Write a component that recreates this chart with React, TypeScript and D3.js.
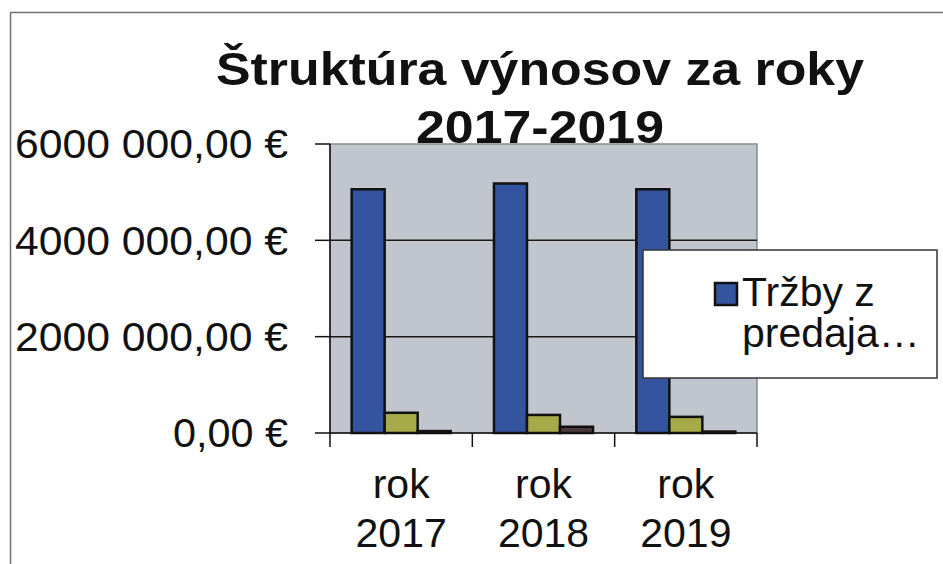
import React, { useEffect } from "react";
import * as d3 from "d3";

const categories = ["rok 2017", "rok 2018", "rok 2019"];
const seriesNames = ["Tržby z predaja…", "Ostatné výnosy", "Finančné výnosy"];
const salesValues = [5060000, 5180000, 5060000];
const otherValues = [420000, 375000, 335000];
const financeValues = [40000, 130000, 30000];
const yTicks = [0, 2000000, 4000000, 6000000];
const yTickLabels = ["0,00 €", "2000 000,00 €", "4000 000,00 €", "6000 000,00 €"];
const titleLines = ["Štruktúra výnosov za roky", "2017-2019"];
const legendLines = ["Tržby z", "predaja…"];
const seriesColors = ["#34549f", "#a7aa48", "#4a3a3a"];

const W = 943;
const H = 564;
const plot = { left: 330, right: 757, top: 144, bottom: 433 };
const font = "'Liberation Sans', Arial, sans-serif";

export default function App() {
  useEffect(() => {
    document.body.style.margin = "0";
  }, []);

  const y = d3.scaleLinear().domain([0, 6000000]).range([plot.bottom, plot.top]);
  const x0 = d3.scaleBand<string>().domain(categories).range([plot.left, plot.right]).padding(0);
  const x1 = d3
    .scaleBand<string>()
    .domain(seriesNames)
    .range([0, x0.bandwidth()])
    .paddingInner(0)
    .paddingOuter(0.656);

  const seriesData = [salesValues, otherValues, financeValues];
  const catEdges = [...categories.map((c) => x0(c) as number), plot.right];

  return (
    <svg width={W} height={H} style={{ display: "block", background: "#fff" }} fontFamily={font}>
      {/* outer chart border */}
      <path d={`M10.5,${H} L10.5,12.5 L${W},12.5`} fill="none" stroke="#707070" strokeWidth={1.5} />

      {/* plot area */}
      <rect
        x={plot.left}
        y={plot.top}
        width={plot.right - plot.left}
        height={plot.bottom - plot.top}
        fill="#c1c5cd"
        stroke="#8a8a8a"
        strokeWidth={1.5}
      />
      {yTicks
        .filter((t) => t > 0 && t < 6000000)
        .map((t) => (
          <line key={t} x1={plot.left} x2={plot.right} y1={y(t)} y2={y(t)} stroke="#1a1a1a" strokeWidth={1.5} />
        ))}

      {/* bars */}
      {categories.map((c, ci) => (
        <g key={c} transform={`translate(${x0(c)},0)`}>
          {seriesNames.map((s, si) => {
            const v = seriesData[si][ci];
            return (
              <rect
                key={s}
                x={x1(s)}
                y={y(v)}
                width={x1.bandwidth()}
                height={plot.bottom - y(v)}
                fill={seriesColors[si]}
                stroke="#111"
                strokeWidth={2.5}
              />
            );
          })}
        </g>
      ))}

      {/* axes */}
      <line x1={plot.left} x2={plot.left} y1={plot.top} y2={plot.bottom} stroke="#111" strokeWidth={1.5} />
      <line x1={plot.left - 1} x2={plot.right} y1={plot.bottom} y2={plot.bottom} stroke="#111" strokeWidth={1.5} />
      {yTicks.map((t, i) => (
        <g key={t}>
          <line x1={plot.left - 15} x2={plot.left} y1={y(t)} y2={y(t)} stroke="#111" strokeWidth={1.5} />
          <text
            x={288}
            y={y(t)}
            dy="0.36em"
            textAnchor="end"
            fontSize={40}
            fill="#111"
            textLength={t === 0 ? 115 : 273}
            lengthAdjust="spacingAndGlyphs"
          >
            {yTickLabels[i]}
          </text>
        </g>
      ))}
      {catEdges.map((e, i) => (
        <line key={i} x1={e} x2={e} y1={plot.bottom} y2={plot.bottom + 14} stroke="#111" strokeWidth={1.5} />
      ))}
      {categories.map((c) => {
        const cx = (x0(c) as number) + x0.bandwidth() / 2;
        const parts = c.split(" ");
        return (
          <text key={c} textAnchor="middle" fontSize={41} fill="#111">
            <tspan x={cx} y={498}>{parts[0]}</tspan>
            <tspan x={cx} y={547}>{parts[1]}</tspan>
          </text>
        );
      })}

      {/* title */}
      <text x={540} y={85} textAnchor="middle" fontSize={46} fontWeight="bold" fill="#111"
        textLength={648} lengthAdjust="spacingAndGlyphs">
        {titleLines[0]}
      </text>
      <text x={540} y={143} textAnchor="middle" fontSize={46} fontWeight="bold" fill="#111"
        textLength={248} lengthAdjust="spacingAndGlyphs">
        {titleLines[1]}
      </text>

      {/* legend */}
      <rect x={643} y={250} width={294} height={128} fill="#fff" stroke="#333" strokeWidth={1.5} />
      <rect x={715} y={283} width={22} height={22} fill={seriesColors[0]} stroke="#111" strokeWidth={2.5} />
      <text fontSize={41} fill="#111">
        <tspan x={742} y={306}>{legendLines[0]}</tspan>
        <tspan x={742} y={347}>{legendLines[1]}</tspan>
      </text>
    </svg>
  );
}
